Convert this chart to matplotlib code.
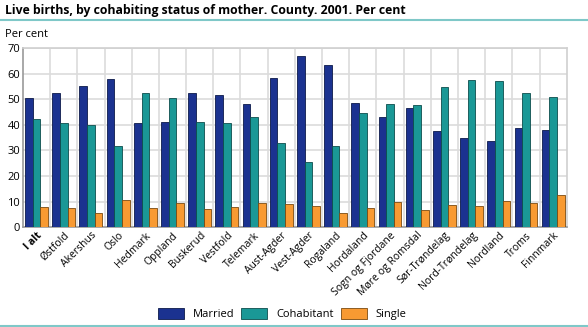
import numpy as np
import matplotlib
matplotlib.use("Agg")
from matplotlib import pyplot as plt
from matplotlib.lines import Line2D

plt.rcParams['font.family'] = ['Open Sans', 'DejaVu Sans']

# %% data
counties = ["I alt", "Østfold", "Akershus", "Oslo", "Hedmark", "Oppland", "Buskerud",
            "Vestfold", "Telemark", "Aust-Agder", "Vest-Agder", "Rogaland", "Hordaland",
            "Sogn og Fjordane", "Møre og Romsdal", "Sør-Trøndelag", "Nord-Trøndelag",
            "Nordland", "Troms", "Finnmark"]
married = [50.3, 52.5, 55.0, 57.8, 40.9, 41.1, 52.5, 51.8, 48.3, 58.5, 66.9,
           63.5, 48.6, 43.1, 46.4, 37.6, 34.9, 33.7, 38.8, 37.8]
cohabitant = [42.3, 40.9, 40.1, 31.9, 52.6, 50.3, 41.1, 40.9, 43.0, 33.1, 25.3,
              31.9, 44.8, 48.0, 47.7, 54.6, 57.5, 57.0, 52.3, 50.8]
single = [8.0, 7.5, 5.7, 10.7, 7.4, 9.4, 7.1, 7.9, 9.4, 9.0, 8.3,
          5.5, 7.4, 9.8, 6.6, 8.6, 8.2, 10.2, 9.6, 12.5]
series_names = ["Married", "Cohabitant", "Single"]
colors = ["#1b3290", "#1a9896", "#f89a32"]
edges = ["#0d1a4a", "#0d4d4c", "#7a4a10"]

# %% plotting
fig = plt.figure(figsize=(5.88, 3.27), dpi=100)
ax = fig.add_axes([0.039, 0.305, 0.925, 0.548])

x = np.arange(len(counties))
w = 0.28
for k, vals in enumerate([married, cohabitant, single]):
    ax.bar(x + (k - 1) * w, vals, w, color=colors[k], edgecolor=edges[k],
           linewidth=0.6, label=series_names[k], zorder=3)

ax.set_xlim(-0.5, len(counties) - 0.5)
ax.set_ylim(0, 70)
ax.set_yticks(np.arange(0, 71, 10))
ax.set_xticks(x)
ax.set_xticklabels(counties, rotation=45, ha="right", rotation_mode="anchor", fontsize=7.5)
ax.get_xticklabels()[0].set_fontweight("bold")
ax.tick_params(axis="y", labelsize=8, length=0, pad=2)
ax.tick_params(axis="x", length=0, pad=2)

# grid: horizontal on the y ticks, vertical between the county groups
ax.grid(axis="y", color="#dcdcdc", linewidth=1.2, zorder=0)
for b in np.arange(0.5, len(counties) - 0.5, 1):
    ax.axvline(b, color="#dcdcdc", linewidth=1.2, zorder=0)
for s in ax.spines.values():
    s.set_color("#d0d0d0")
    s.set_linewidth(1.2)
ax.spines["left"].set_color("#999999")
ax.spines["bottom"].set_color("#999999")

fig.text(0.008, 0.968, "Live births, by cohabiting status of mother. County. 2001. Per cent",
         fontsize=8.8, fontweight="bold", va="center")
fig.add_artist(Line2D([0, 1], [0.938, 0.938], color="#7fc8c8", linewidth=1.5))
fig.text(0.008, 0.893, "Per cent", fontsize=8, va="center")
fig.add_artist(Line2D([0, 1], [0.004, 0.004], color="#7fc8c8", linewidth=1.5))

fig.legend(loc="center", bbox_to_anchor=(0.48, 0.04), ncol=3, frameon=False,
           fontsize=8, handlelength=2.35, handleheight=1.1, columnspacing=0.6,
           handletextpad=0.8, borderpad=0.2)

fig.savefig("out.png", dpi=100)
